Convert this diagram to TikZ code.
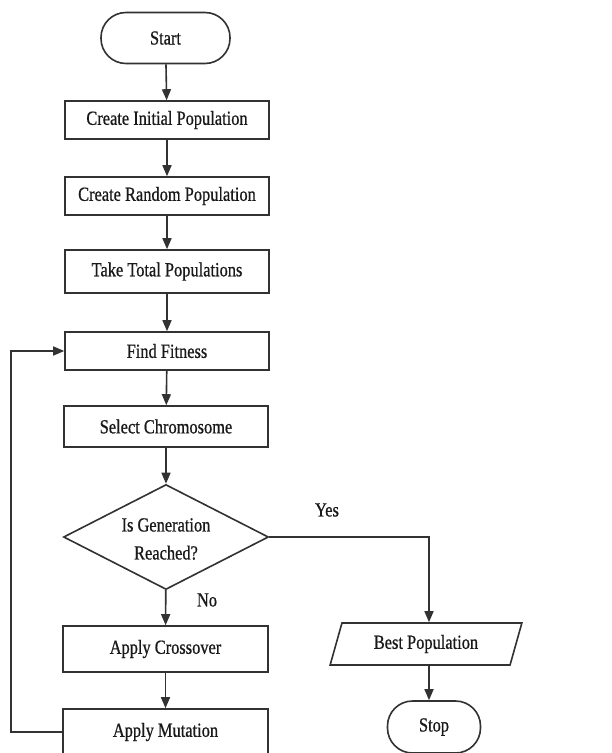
\documentclass[tikz,border=0pt]{standalone}
\usepackage{fontspec}
\setmainfont{Liberation Serif}[FakeStretch=0.82,FakeBold=0.7]
\usetikzlibrary{shapes.geometric,arrows.meta}
\definecolor{ln}{RGB}{50,50,50}
\begin{document}
\begin{tikzpicture}[x=1pt,y=-1pt,
  txt/.style={font=\fontsize{20}{28}\selectfont, text=black!90},
  box/.style={txt, draw=ln, line width=1.6pt, minimum width=204pt, minimum height=38pt, inner sep=0pt},
  term/.style={txt, draw=ln, line width=1.6pt, rounded corners=25pt, inner sep=0pt},
  dec/.style={diamond, draw=ln, line width=1.6pt, minimum width=205pt, minimum height=105pt, inner sep=0pt},
  io/.style={txt, trapezium, trapezium left angle=68, trapezium right angle=112, trapezium stretches=true,
    draw=ln, line width=1.6pt, minimum width=192pt, minimum height=42pt, inner sep=0pt},
  arr/.style={draw=ln, line width=1.6pt, -{Triangle[length=11pt,width=9pt]}},
  lbl/.style={txt}]
\useasboundingbox (0,0) rectangle (611,753);
\fill[white] (0,0) rectangle (611,753);
\clip (0,0) rectangle (611,753);

\node[term, minimum width=129pt, minimum height=51pt] (start) at (165.5,38) {Start};
\node[box] (init) at (167,120) {Create Initial Population};
\node[box] (rand) at (167,196) {Create Random Population};
\node[box, minimum height=43pt] (total) at (167,271.5) {Take Total Populations};
\node[box] (fit) at (167,351) {Find Fitness};
\node[box, minimum height=41pt] (sel) at (166,426.5) {Select Chromosome};
\node[dec] (dec) at (166,537) {};
\node[txt, align=center] (dectext) at (166,539) {Is Generation\\Reached?};
\node[box, minimum width=205pt, minimum height=46pt] (cross) at (165.5,649) {Apply Crossover};
\node[box, minimum width=205pt, minimum height=46pt] (mut) at (165.5,732) {Apply Mutation};
\node[io] (best) at (426,644) {Best Population};
\node[term, minimum width=93pt, minimum height=52pt] (stop) at (434,727) {Stop};

\node[lbl] (yes) at (327,510) {Yes};
\node[lbl] (no) at (207,600) {No};

\draw[arr] (start) -- (init);
\draw[arr] (init) -- (rand);
\draw[arr] (rand) -- (total);
\draw[arr] (total) -- (fit);
\draw[arr] (fit) -- (sel);
\draw[arr] (sel) -- (dec);
\draw[arr] (dec) -- (cross);
\draw[arr] (cross) -- (mut);
\draw[arr] (dec.east) -| ([xshift=3pt]best.north);
\draw[arr] ([xshift=3pt]best.south) -- ([xshift=3pt]best.south |- stop.north);
\draw[arr] (mut.west) -- ++(-51,0) |- (fit.west);
\end{tikzpicture}
\end{document}
